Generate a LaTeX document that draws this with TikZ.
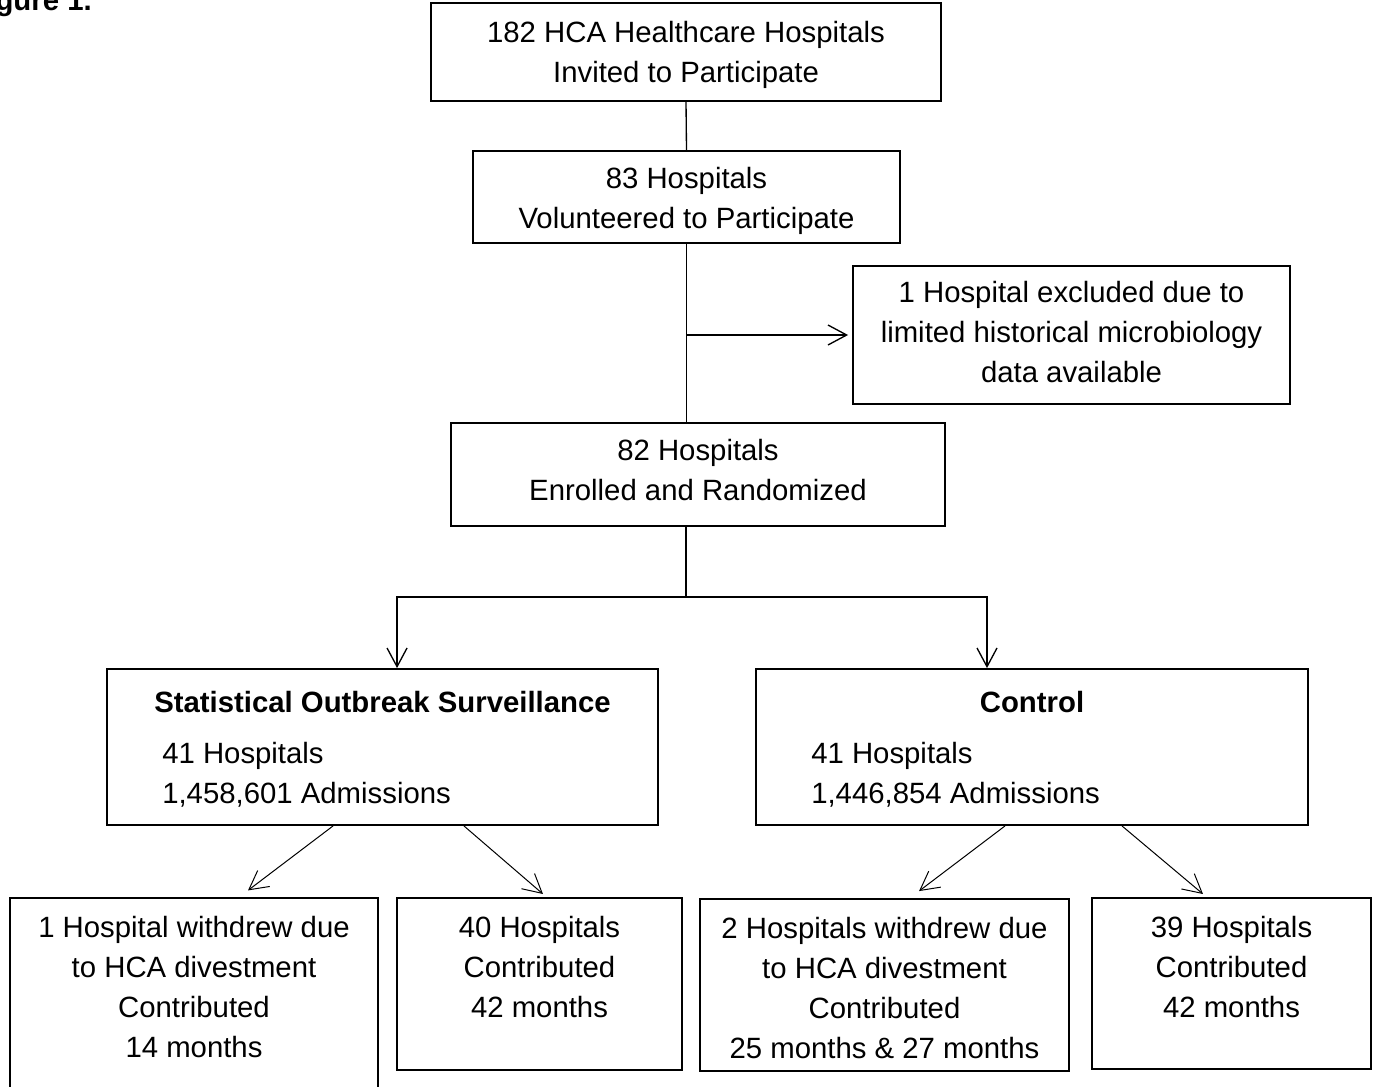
\documentclass[tikz,border=0pt]{standalone}
\usepackage{fontspec}
\setmainfont{Liberation Sans}
\usetikzlibrary{positioning,arrows.meta}

\begin{document}
\begin{tikzpicture}[
    x=0.75pt, y=-0.75pt,
    >={Straight Barb[length=14pt,width=15pt]},
    box/.style 2 args={rectangle,draw=black,line width=1.4pt,inner sep=0,
                 minimum width=#1*0.75pt,minimum height=#2*0.75pt},
    txt/.style={inner sep=0,align=center,
                font=\fontsize{22}{30}\selectfont},
    title/.style={txt,font=\bfseries\fontsize{22}{30}\selectfont},
    conn/.style={draw=black,line width=1pt},
    diag/.style={draw=black,line width=0.75pt,->},
]

    \useasboundingbox (0,0) rectangle (1376,1086);

    \node[title,anchor=base east] (figlabel) at (92,10.5) {Figure 1.};

    % boxes of the flow
    \node[box={510}{98}] (invited) at (686,52) {};
    \node[box={427}{92}] (volunteered) at (686.5,197) {};
    \node[box={437}{138}] (excluded) at (1071.5,335) {};
    \node[box={494}{103}] (enrolled) at (698,474.5) {};
    \node[box={551}{156}] (sos) at (382.5,747) {};
    \node[box={552}{156}] (ctrl) at (1032,747) {};
    \node[box={368}{212}] (sosout) at (194,1004) {};
    \node[box={285}{172}] (sosin) at (539.5,984) {};
    \node[box={369}{172}] (ctrlout) at (884.5,985) {};
    \node[box={279}{171}] (ctrlin) at (1231.5,983.5) {};

    % texts
    \node[txt,below=14.4pt of invited.north] (invitedtxt)
        {182 HCA Healthcare Hospitals\\Invited to Participate};
    \node[txt,below=13pt of volunteered.north] (volunteeredtxt)
        {83 Hospitals\\Volunteered to Participate};
    \node[txt,below=12.3pt of excluded.north] (excludedtxt)
        {1 Hospital excluded due to\\limited historical microbiology\\data available};
    \node[txt,below=13pt of enrolled.north] (enrolledtxt)
        {82 Hospitals\\Enrolled and Randomized};
    \node[title,below=16.8pt of sos.north] (sostitle) {Statistical Outbreak Surveillance};
    \node[txt,align=left,anchor=north west] (sosinfo) at (162,742.4)
        {41 Hospitals\\1,458,601 Admissions};
    \node[title,below=16.8pt of ctrl.north] (ctrltitle) {Control};
    \node[txt,align=left,anchor=north west] (ctrlinfo) at (811,742.4)
        {41 Hospitals\\1,446,854 Admissions};
    \node[txt,below=13.8pt of sosout.north] (sosouttxt)
        {1 Hospital withdrew due\\to HCA divestment\\Contributed\\14 months};
    \node[txt,below=13.8pt of sosin.north] (sosintxt)
        {40 Hospitals\\Contributed\\42 months};
    \node[txt,below=13.8pt of ctrlout.north] (ctrlouttxt)
        {2 Hospitals withdrew due\\to HCA divestment\\Contributed\\25 months \& 27 months};
    \node[txt,below=13.8pt of ctrlin.north] (ctrlintxt)
        {39 Hospitals\\Contributed\\42 months};

    % connectors
    \coordinate (split) at (686,597);
    \draw[conn] (invited.south) -- (volunteered.north);
    \draw[conn] (volunteered.south) -- (volunteered.south |- enrolled.north);
    \draw[conn,->,shorten >=3pt] (volunteered.south |- excluded.west) -- (excluded.west);
    \draw[conn] (enrolled.south -| split) -- (split);
    \draw[conn,<->] ([xshift=10.9pt]sos.north) |- (split) -| ([xshift=-33.75pt]ctrl.north);

    \draw[diag] ([xshift=-37.1pt]sos.south) -- ([xshift=40.5pt,yshift=5pt]sosout.north);
    \draw[diag] ([xshift=61.1pt]sos.south) -- ([xshift=2.6pt,yshift=2.3pt]sosin.north);
    \draw[diag] ([xshift=-20.25pt]ctrl.south) -- ([xshift=25.9pt,yshift=5.25pt]ctrlout.north);
    \draw[diag] ([xshift=67.5pt]ctrl.south) -- ([xshift=-21.4pt,yshift=2.3pt]ctrlin.north);

\end{tikzpicture}
\end{document}
